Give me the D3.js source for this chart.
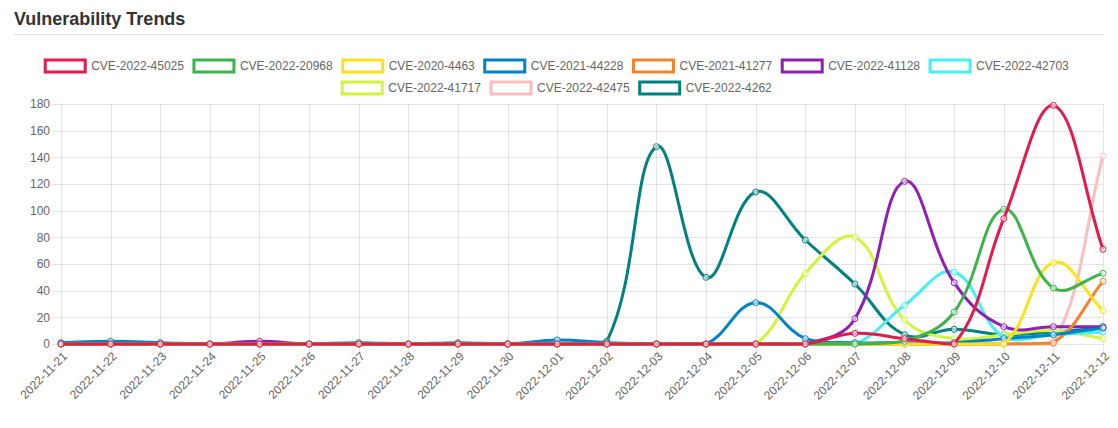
<!DOCTYPE html>
<html>
<head>
<meta charset="utf-8">
<script src="https://cdn.jsdelivr.net/npm/d3@7"></script>
<style>
  body { margin: 0; background: #fff; }
  svg { display: block; font-family: "Liberation Sans", Arial, Helvetica, sans-serif; }
</style>
</head>
<body>
<div id="chart"></div>
<script>
// dates on the x axis
const dates = ["2022-11-21","2022-11-22","2022-11-23","2022-11-24","2022-11-25","2022-11-26",
  "2022-11-27","2022-11-28","2022-11-29","2022-11-30","2022-12-01","2022-12-02","2022-12-03",
  "2022-12-04","2022-12-05","2022-12-06","2022-12-07","2022-12-08","2022-12-09","2022-12-10",
  "2022-12-11","2022-12-12"];

const cveNames = ["CVE-2022-45025","CVE-2022-20968","CVE-2020-4463","CVE-2021-44228","CVE-2021-41277",
  "CVE-2022-41128","CVE-2022-42703","CVE-2022-41717","CVE-2022-42475","CVE-2022-4262"];

const cveColors = ["#e6194b","#3cb44b","#ffe119","#0082c8","#f58231",
  "#911eb4","#46f0f0","#d2f53c","#fabebe","#008080"];

// counts per day, same order as dates
const cve45025 = [0,0,0,0,0,0,0,0,0,0,0,0,0,0,0,0,8,4,0,94,179,71];
const cve20968 = [0,0,0,0,0,0,0,0,0,0,0,0,0,0,0,0,0,2,24,101,42,53];
const cve4463  = [0,0,0,0,0,0,0,0,0,0,0,0,0,0,0,0,0,0,0,0,61,25];
const cve44228 = [1,2,1,0,0,0,1,0,1,0,3,1,0,0,31,4,1,1,1,4,7,12];
const cve41277 = [0,0,0,0,0,0,0,0,0,0,0,0,0,0,0,0,0,0,0,0,1,47];
const cve41128 = [0,0,0,0,2,0,0,0,0,0,0,0,0,0,0,0,19,122,46,13,13,13];
const cve42703 = [0,0,0,0,0,0,0,0,0,0,0,0,0,0,0,0,0,29,54,5,7,9];
const cve41717 = [0,0,0,0,0,0,0,0,0,0,0,0,0,0,0,53,80,18,4,7,10,4];
const cve42475 = [0,0,0,0,0,0,0,0,0,0,0,0,0,0,0,0,0,0,0,0,0,141];
const cve4262  = [0,0,0,0,0,0,0,0,0,0,0,2,148,50,114,78,45,7,11,7,9,12];

const yTicks = [0,20,40,60,80,100,120,140,160,180];

const series = [cve45025, cve20968, cve4463, cve44228, cve41277,
  cve41128, cve42703, cve41717, cve42475, cve4262];

const width = 1118;
const height = 428;
const marginTop = 104;
const marginBottom = 84;   // zero line at 344
const marginLeft = 61;
const marginRight = 15;

const x = d3.scalePoint()
    .domain(dates)
    .range([marginLeft, width - marginRight]);

const y = d3.scaleLinear()
    .domain([0, 180])
    .range([height - marginBottom, marginTop]);

// chart.js style spline (tension 0.4, control points kept inside the plot)
function splineCurve(context) {
  let pts;
  const t = 0.4;
  const capX = v => Math.max(marginLeft, Math.min(width - marginRight, v));
  const capY = v => Math.max(marginTop, Math.min(height - marginBottom, v));
  return {
    areaStart() {}, areaEnd() {},
    lineStart() { pts = []; },
    point(px, py) { pts.push([+px, +py]); },
    lineEnd() {
      const n = pts.length;
      if (!n) return;
      const cps = pts.map((p, i) => {
        const prev = pts[Math.max(i - 1, 0)], next = pts[Math.min(i + 1, n - 1)];
        const d01 = Math.hypot(p[0] - prev[0], p[1] - prev[1]);
        const d12 = Math.hypot(next[0] - p[0], next[1] - p[1]);
        let s01 = d01 / (d01 + d12), s12 = d12 / (d01 + d12);
        if (isNaN(s01)) s01 = 0;
        if (isNaN(s12)) s12 = 0;
        const fa = t * s01, fb = t * s12;
        return {
          prev: [capX(p[0] - fa * (next[0] - prev[0])), capY(p[1] - fa * (next[1] - prev[1]))],
          next: [capX(p[0] + fb * (next[0] - prev[0])), capY(p[1] + fb * (next[1] - prev[1]))]
        };
      });
      context.moveTo(pts[0][0], pts[0][1]);
      for (let i = 1; i < n; i++) {
        context.bezierCurveTo(cps[i - 1].next[0], cps[i - 1].next[1],
          cps[i].prev[0], cps[i].prev[1], pts[i][0], pts[i][1]);
      }
    }
  };
}

const svg = d3.select("#chart")
  .append("svg")
    .attr("width", width)
    .attr("height", height)
    .attr("viewBox", [0, 0, width, height]);

// Title and rule
svg.append("text")
    .attr("x", 14)
    .attr("y", 25)
    .attr("fill", "#333")
    .attr("font-size", 18)
    .attr("font-weight", "bold")
    .text("Vulnerability Trends");

svg.append("line")
    .attr("x1", 14).attr("x2", 1104)
    .attr("y1", 34.5).attr("y2", 34.5)
    .attr("stroke", "#ddd");

// Legend
const legend = svg.append("g").attr("font-size", 12).attr("fill", "#666");
const items = cveNames.map((name, i) => {
  const tmp = legend.append("text").text(name);
  const w = tmp.node().getComputedTextLength();
  tmp.remove();
  return {name, color: cveColors[i], w: 46 + w};
});
const rows = [[]];
let rowW = 0;
items.forEach(it => {
  const add = (rows[rows.length - 1].length ? 10 : 0) + it.w;
  if (rowW + add > 1080) { rows.push([it]); rowW = it.w; }
  else { rows[rows.length - 1].push(it); rowW += add; }
});
rows.forEach((row, r) => {
  const total = d3.sum(row, d => d.w) + 10 * (row.length - 1);
  let cx = 557 - total / 2;
  const cy = 66 + r * 22;
  row.forEach(it => {
    legend.append("rect")
        .attr("x", cx).attr("y", cy - 6)
        .attr("width", 40).attr("height", 12)
        .attr("fill", "#fff")
        .attr("stroke", it.color)
        .attr("stroke-width", 3);
    legend.append("text")
        .attr("x", cx + 46).attr("y", cy)
        .attr("dy", "0.35em")
        .text(it.name);
    cx += it.w + 10;
  });
});

// Grid
svg.append("g")
    .attr("stroke", "rgba(0,0,0,0.1)")
    .selectAll("line")
    .data(yTicks)
    .join("line")
    .attr("x1", marginLeft - 9).attr("x2", width - marginRight)
    .attr("y1", d => Math.round(y(d)) + 0.5).attr("y2", d => Math.round(y(d)) + 0.5);

svg.append("g")
    .attr("stroke", "rgba(0,0,0,0.1)")
    .selectAll("line")
    .data(dates)
    .join("line")
    .attr("x1", d => Math.round(x(d)) + 0.5).attr("x2", d => Math.round(x(d)) + 0.5)
    .attr("y1", marginTop).attr("y2", height - marginBottom + 9);

// Y axis labels
svg.append("g")
    .attr("font-size", 12)
    .attr("fill", "#666")
    .attr("text-anchor", "end")
    .selectAll("text")
    .data(yTicks)
    .join("text")
    .attr("x", marginLeft - 11)
    .attr("y", d => y(d))
    .attr("dy", "0.35em")
    .text(d => d);

// X axis labels
svg.append("g")
    .attr("font-size", 12)
    .attr("fill", "#666")
    .attr("text-anchor", "end")
    .selectAll("text")
    .data(dates)
    .join("text")
    .attr("transform", d => `translate(${x(d) + 4},${height - marginBottom + 10}) rotate(-45)`)
    .attr("dy", "0.35em")
    .text(d => d);

// Lines and points, first dataset on top
const line = d3.line()
    .x((d, i) => x(dates[i]))
    .y(d => y(d))
    .curve(splineCurve);

const plot = svg.append("g");
d3.range(series.length).reverse().forEach(k => {
  const g = plot.append("g");
  g.append("path")
      .attr("d", line(series[k]))
      .attr("fill", "none")
      .attr("stroke", cveColors[k])
      .attr("stroke-width", 3);
  g.selectAll("circle")
    .data(series[k])
    .join("circle")
      .attr("cx", (d, i) => x(dates[i]))
      .attr("cy", d => y(d))
      .attr("r", 3)
      .attr("fill", "rgba(255,255,255,0.6)")
      .attr("stroke", cveColors[k])
      .attr("stroke-width", 1);
});
</script>
</body>
</html>
